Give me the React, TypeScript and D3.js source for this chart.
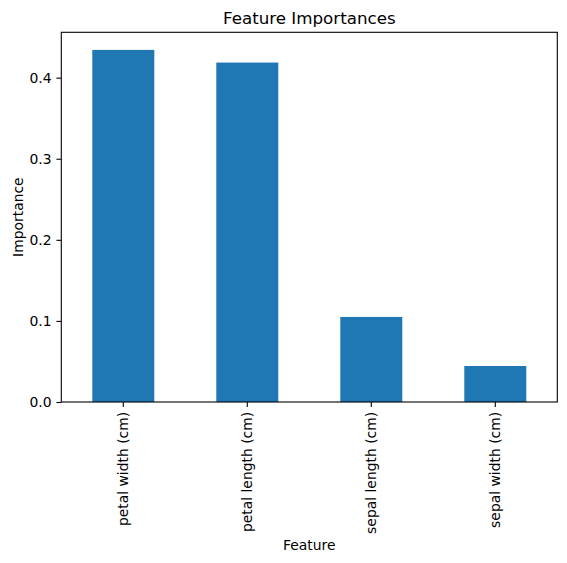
import React, { useRef, useEffect } from 'react';
import * as d3 from 'd3';

const features = ['petal width (cm)', 'petal length (cm)', 'sepal length (cm)', 'sepal width (cm)'];
const importances = [0.4342, 0.4186, 0.1049, 0.0444];
const yTicks = [0.0, 0.1, 0.2, 0.3, 0.4];

const App: React.FC = () => {
  const chartRef = useRef<SVGSVGElement | null>(null);

  useEffect(() => {
    if (!chartRef.current) return;
    d3.select(chartRef.current).selectAll('*').remove();

    const width = 567;
    const height = 563;
    const margin = { top: 32.3, right: 9.7, bottom: 161, left: 61.3 };
    const innerWidth = width - margin.left - margin.right;
    const innerHeight = height - margin.top - margin.bottom;
    const font = 'DejaVu Sans, sans-serif';

    const svg = d3.select(chartRef.current)
      .attr('width', width)
      .attr('height', height);

    const g = svg.append('g')
      .attr('transform', `translate(${margin.left},${margin.top})`);

    const data = features.map((f, i) => ({ feature: f, value: importances[i] }));

    const x = d3.scaleBand()
      .domain(features)
      .range([0, innerWidth])
      .paddingInner(0.5)
      .paddingOuter(0.25);

    const yMax = (d3.max(importances) || 0) * 1.05;
    const y = d3.scaleLinear()
      .domain([0, yMax])
      .range([innerHeight, 0]);

    // Bars
    g.append('g')
      .selectAll('rect')
      .data(data)
      .join('rect')
      .attr('x', d => x(d.feature) || 0)
      .attr('y', d => y(d.value))
      .attr('width', x.bandwidth())
      .attr('height', d => innerHeight - y(d.value))
      .attr('fill', '#1f77b4');

    // Y axis
    const yAxis = g.append('g')
      .call(d3.axisLeft(y).tickValues(yTicks).tickFormat(d3.format('.1f')).tickSize(4.9).tickPadding(4.9));
    yAxis.select('.domain').remove();
    yAxis.selectAll('.tick line').attr('stroke', '#000').attr('stroke-width', 1.1);
    yAxis.selectAll('.tick text')
      .attr('font-family', font)
      .attr('font-size', 13.9)
      .attr('fill', '#000');

    // X axis
    const xAxis = g.append('g')
      .attr('transform', `translate(0,${innerHeight})`)
      .call(d3.axisBottom(x).tickSize(4.9).tickPadding(4.9));
    xAxis.select('.domain').remove();
    xAxis.selectAll('.tick line').attr('stroke', '#000').attr('stroke-width', 1.1);
    xAxis.selectAll('.tick text')
      .attr('font-family', font)
      .attr('font-size', 13.9)
      .attr('fill', '#000')
      .attr('transform', 'rotate(-90)')
      .attr('text-anchor', 'end')
      .attr('x', -9.8)
      .attr('y', 0)
      .attr('dy', '0.35em');

    // Frame
    g.append('rect')
      .attr('x', 0)
      .attr('y', 0)
      .attr('width', innerWidth)
      .attr('height', innerHeight)
      .attr('fill', 'none')
      .attr('stroke', '#000')
      .attr('stroke-width', 1.1);

    // Title
    svg.append('text')
      .attr('x', margin.left + innerWidth / 2)
      .attr('y', 24)
      .attr('text-anchor', 'middle')
      .attr('font-family', font)
      .attr('font-size', 16.7)
      .text('Feature Importances');

    // X label
    svg.append('text')
      .attr('x', margin.left + innerWidth / 2)
      .attr('y', 550)
      .attr('text-anchor', 'middle')
      .attr('font-family', font)
      .attr('font-size', 13.9)
      .text('Feature');

    // Y label
    svg.append('text')
      .attr('transform', `translate(22.7,${margin.top + innerHeight / 2}) rotate(-90)`)
      .attr('text-anchor', 'middle')
      .attr('font-family', font)
      .attr('font-size', 13.9)
      .text('Importance');
  }, []);

  return (
    <svg
      ref={chartRef}
      style={{ position: 'absolute', left: 0, top: 0, background: '#fff' }}
    />
  );
};

export default App;
